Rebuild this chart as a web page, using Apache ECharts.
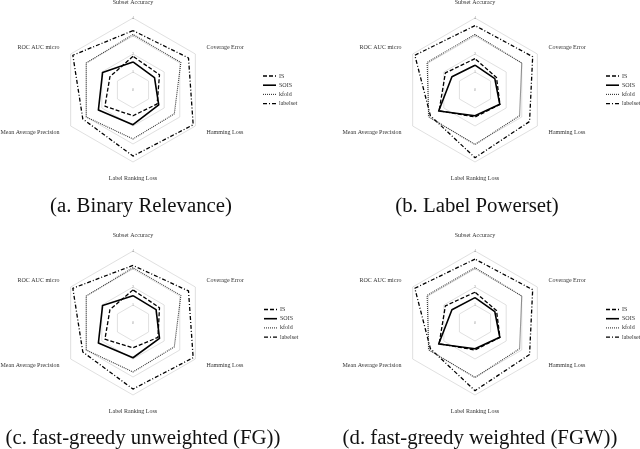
<!DOCTYPE html>
<html>
<head>
<meta charset="utf-8">
<script src="https://cdn.jsdelivr.net/npm/echarts@6/dist/echarts.min.js"></script>
<style>
html,body{margin:0;padding:0;background:#fff;}
#chart{width:640px;height:449px;}
</style>
</head>
<body>
<div id="chart"></div>
<script>
// Indicator order as ECharts places them (counter-clockwise from top)
var indicators = ['Subset Accuracy', 'ROC AUC micro', 'Mean Average Precision', 'Label Ranking Loss', 'Hamming Loss', 'Coverage Error'];
var tickLabels = ['0', '1', '2', '3', '4'];
var seriesNames = ['IS', 'SOIS', 'kfold', 'labelset'];
var panelTitles = ['(a. Binary Relevance)', '(b. Label Powerset)', '(c. fast-greedy unweighted (FG))', '(d. fast-greedy weighted (FGW))'];

// values: [Subset Acc, ROC AUC, MAP, LRL, Hamming, Coverage]
var brIS       = [1.87, 1.48, 1.80, 1.43, 1.55, 1.70];
var brSOIS     = [1.56, 1.95, 2.22, 1.93, 1.65, 1.38];
var brKfold    = [3.08, 3.00, 3.00, 2.72, 2.65, 3.07];
var brLabelset = [3.30, 3.86, 3.22, 3.67, 3.86, 3.56];

var lpIS       = [1.74, 1.90, 2.30, 1.50, 1.60, 1.38];
var lpSOIS     = [1.38, 1.48, 2.33, 1.43, 1.59, 1.27];
var lpKfold    = [3.08, 3.07, 2.97, 3.03, 2.86, 3.00];
var lpLabelset = [3.58, 3.86, 2.86, 3.76, 3.50, 3.70];

var fgIS       = [1.84, 1.48, 1.80, 1.38, 1.60, 1.70];
var fgSOIS     = [1.52, 1.95, 2.22, 1.93, 1.70, 1.48];
var fgKfold    = [3.07, 3.00, 3.00, 2.72, 2.65, 3.07];
var fgLabelset = [3.20, 3.86, 3.22, 3.67, 3.86, 3.56];

var fgwIS       = [1.71, 1.90, 2.30, 1.50, 1.60, 1.38];
var fgwSOIS     = [1.41, 1.48, 2.33, 1.43, 1.59, 1.27];
var fgwKfold    = [3.07, 3.07, 2.97, 3.03, 2.86, 3.00];
var fgwLabelset = [3.55, 3.86, 2.86, 3.76, 3.50, 3.70];

var panels = [
  [brIS, brSOIS, brKfold, brLabelset],
  [lpIS, lpSOIS, lpKfold, lpLabelset],
  [fgIS, fgSOIS, fgKfold, fgLabelset],
  [fgwIS, fgwSOIS, fgwKfold, fgwLabelset]
];

var centers = [[133, 90], [475, 90], [133, 323], [475, 323]];
var legendPos = [[263, 76], [606, 76], [264, 309.5], [606, 309.5]];
var titlePos = [[141, 207], [477, 207], [143, 439], [480, 439]];
var FONT = '"Liberation Serif", "Times New Roman", serif';

var styles = [
  {color: '#000', width: 1.3, type: [4, 2]},
  {color: '#000', width: 1.6, type: 'solid'},
  {color: '#333', width: 1.1, type: [1, 1]},
  {color: '#000', width: 1.3, type: [4, 2, 1, 2]}
];

var radars = [];
var series = [];
var graphics = [];

centers.forEach(function (c, p) {
  radars.push({
    center: c,
    radius: 72,
    startAngle: 90,
    shape: 'polygon',
    splitNumber: 4,
    nameGap: 13,
    axisName: {color: '#333', fontSize: 6, fontFamily: FONT},
    splitLine: {lineStyle: {color: '#d8d8d8', width: 0.8}},
    splitArea: {show: false},
    axisLine: {show: false},
    axisTick: {show: false},
    axisLabel: {show: false},
    indicator: indicators.map(function (name, i) {
      var ind = {name: name, min: 0, max: 4};
      if (i === 0) {
        ind.axisLabel = {show: true, fontSize: 4, color: '#999', margin: -1, fontFamily: FONT,
          formatter: function (v) { return tickLabels[Math.round(v)] || ''; }};
      }
      return ind;
    })
  });
  panels[p].forEach(function (vals, s) {
    series.push({
      type: 'radar',
      radarIndex: p,
      name: seriesNames[s],
      symbol: 'none',
      silent: true,
      z: 2 + (3 - s),
      lineStyle: {color: styles[s].color, width: styles[s].width, type: styles[s].type},
      itemStyle: {color: styles[s].color},
      data: [{value: vals, name: seriesNames[s]}]
    });
  });
  // legend
  seriesNames.forEach(function (n, s) {
    var lx = legendPos[p][0], ly = legendPos[p][1] + s * 9.2;
    graphics.push({
      type: 'line',
      shape: {x1: lx, y1: ly, x2: lx + 13, y2: ly},
      style: {stroke: styles[s].color, lineWidth: styles[s].width,
        lineDash: styles[s].type === 'solid' ? null : styles[s].type}
    });
    graphics.push({
      type: 'text',
      x: lx + 16, y: ly,
      style: {text: n, fill: '#333', font: '6px ' + FONT, align: 'left', verticalAlign: 'middle'}
    });
  });
  graphics.push({
    type: 'text',
    x: titlePos[p][0], y: titlePos[p][1],
    style: {text: panelTitles[p], fill: '#111', font: '20.8px ' + FONT, align: 'center', verticalAlign: 'middle'}
  });
});

var chart = echarts.init(document.getElementById('chart'), null, {renderer: 'canvas'});
chart.setOption({
  animation: false,
  backgroundColor: '#fff',
  radar: radars,
  series: series,
  graphic: graphics
});
</script>
</body>
</html>
